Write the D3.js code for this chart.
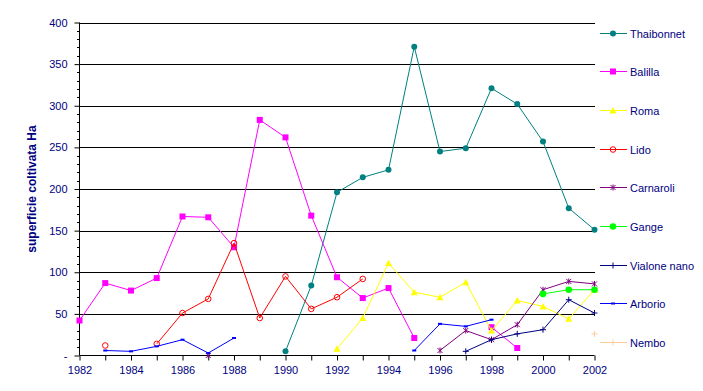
<!DOCTYPE html>
<html><head><meta charset="utf-8">
<script src="https://cdn.jsdelivr.net/npm/d3@7"></script>
<style>body{margin:0;background:#fff}svg{display:block}</style>
</head><body>
<svg id="c" width="703" height="391"></svg>
<script>
const years = [1982,1983,1984,1985,1986,1987,1988,1989,1990,1991,1992,1993,1994,1995,1996,1997,1998,1999,2000,2001,2002];
const thaibonnet = [null,null,null,null,null,null,null,null,5,84,196,214,223,371,245,249,321,302,257,177,151];
const balilla    = [42,87,78,93,167,166,130,283,262,168,94,69,81,21,null,null,34,9,null,null,null];
const roma       = [null,null,null,null,null,null,null,null,null,null,8,45,111,76,70,88,30,66,59,44,79];
const lido       = [null,12,null,14,51,68,135,45,95,56,70,92,null,null,null,null,null,null,null,null,null];
const carnaroli  = [null,null,null,null,null,0,null,null,null,null,null,null,null,null,6,30,19,37,79,89,86];
const gange      = [null,null,null,null,null,null,null,null,null,null,null,null,null,null,null,null,null,null,74,79,79];
const vialone    = [null,null,null,null,null,null,null,null,null,null,null,null,null,null,null,5,19,26,31,67,51];
const arborio    = [null,6,5,11,19,3,21,null,null,null,null,null,null,6,38,35,43,null,null,null,null];
const nembo      = [null,null,null,null,null,null,null,null,null,null,null,null,null,null,null,null,null,null,null,null,26];
const seriesNames = ["Thaibonnet","Balilla","Roma","Lido","Carnaroli","Gange","Vialone nano","Arborio","Nembo"];
const yTicks = [0,50,100,150,200,250,300,350,400];
const xTickLabels = [1982,1984,1986,1988,1990,1992,1994,1996,1998,2000,2002];
const yTitle = "superficie coltivata Ha";

const seriesData = [thaibonnet,balilla,roma,lido,carnaroli,gange,vialone,arborio,nembo];
const colors = ["#008080","#FF00FF","#FFFF00","#FF0000","#800080","#00FF00","#000080","#0000FF","#FFCC99"];
const markers = ["circle","square","triangle","ocircle","star","bigcircle","plus","dash","plus"];

const svg = d3.select("#c");
const x = d3.scaleLinear().domain([1982,2002]).range([79.5,594.5]);
const y = d3.scaleLinear().domain([0,400]).range([355.5,22.5]);
const font = "'Liberation Sans', Arial, sans-serif";
const navy = "#000080";

// gridlines
svg.append("g").selectAll("line").data(yTicks.filter(d=>d>0)).join("line")
  .attr("x1",79).attr("x2",595).attr("y1",d=>Math.round(y(d))+0.5).attr("y2",d=>Math.round(y(d))+0.5)
  .attr("stroke","#000").attr("stroke-width",1);

// y axis
const yAxis = d3.axisLeft(y).tickValues(yTicks).tickSize(5).tickPadding(7)
  .tickFormat(d=> d===0 ? "-" : d);
const gy = svg.append("g").attr("transform","translate(79.5,0)").call(yAxis);
gy.select(".domain").attr("stroke","#000").attr("d","M0,22.5V355.5");
gy.selectAll(".tick line").attr("stroke","#000");
gy.selectAll("text").attr("fill",navy).style("font-family",font).style("font-size","11px");
// minor ticks
const minor = d3.range(0,401,10).filter(d=>d%50!==0);
svg.append("g").selectAll("line").data(minor).join("line")
  .attr("x1",77).attr("x2",79.5).attr("y1",d=>Math.round(y(d))+0.5).attr("y2",d=>Math.round(y(d))+0.5)
  .attr("stroke","#000");

// x axis
const xAxis = d3.axisBottom(x).tickValues(years).tickSize(5).tickPadding(6)
  .tickFormat(d=> xTickLabels.includes(d) ? d : "");
const gx = svg.append("g").attr("transform","translate(0,355.5)").call(xAxis);
gx.select(".domain").attr("stroke","#000").attr("d","M79.5,0H594.5");
gx.selectAll(".tick line").attr("stroke","#000");
gx.selectAll("text").attr("fill",navy).style("font-family",font).style("font-size","11px");

// y title
svg.append("text").attr("transform","translate(31.5,189) rotate(-90)")
  .attr("text-anchor","middle").attr("dominant-baseline","central")
  .attr("fill",navy).style("font-family",font).style("font-size","12px").style("font-weight","bold")
  .text(yTitle);

function drawMarker(g, type, cx, cy, color){
  if(type==="circle") g.append("circle").attr("cx",cx).attr("cy",cy).attr("r",3).attr("fill",color);
  else if(type==="bigcircle") g.append("circle").attr("cx",cx).attr("cy",cy).attr("r",3.3).attr("fill",color);
  else if(type==="ocircle") g.append("circle").attr("cx",cx).attr("cy",cy).attr("r",2.8).attr("fill","none").attr("stroke",color).attr("stroke-width",1);
  else if(type==="square") g.append("rect").attr("x",cx-3).attr("y",cy-3).attr("width",6).attr("height",6).attr("fill",color);
  else if(type==="triangle") g.append("path").attr("d",`M${cx},${cy-3.5}L${cx+3.5},${cy+3}L${cx-3.5},${cy+3}Z`).attr("fill",color);
  else if(type==="star") g.append("path").attr("d",`M${cx-2.5},${cy-2.5}L${cx+2.5},${cy+2.5}M${cx+2.5},${cy-2.5}L${cx-2.5},${cy+2.5}M${cx},${cy-3}V${cy+3}`).attr("stroke",color).attr("stroke-width",1).attr("fill","none");
  else if(type==="plus") g.append("path").attr("d",`M${cx-3},${cy}H${cx+3}M${cx},${cy-3}V${cy+3}`).attr("stroke",color).attr("stroke-width",1).attr("fill","none");
  else if(type==="dash") g.append("rect").attr("x",cx-2).attr("y",cy-1).attr("width",4).attr("height",2).attr("fill",color);
}

const line = d3.line().defined(d=>d.v!=null).x(d=>x(d.t)).y(d=>y(d.v));
seriesData.forEach((vals,i)=>{
  const pts = years.map((t,j)=>({t, v: vals[j]}));
  const g = svg.append("g");
  g.append("path").attr("d",line(pts)).attr("fill","none").attr("stroke",colors[i]).attr("stroke-width",1);
  pts.filter(p=>p.v!=null).forEach(p=>drawMarker(g, markers[i], x(p.t), y(p.v), colors[i]));
});

// legend
const lg = svg.append("g");
seriesNames.forEach((name,i)=>{
  const ly = 32.5 + i*38.7;
  const yy = Math.round(ly)+0.5;
  lg.append("line").attr("x1",600).attr("x2",627).attr("y1",yy).attr("y2",yy).attr("stroke",colors[i]).attr("stroke-width",1);
  drawMarker(lg, markers[i], 613, yy, colors[i]);
  lg.append("text").attr("x",630).attr("y",yy).attr("dominant-baseline","central")
    .attr("fill",navy).style("font-family",font).style("font-size","11px").text(name);
});
</script>
</body></html>
